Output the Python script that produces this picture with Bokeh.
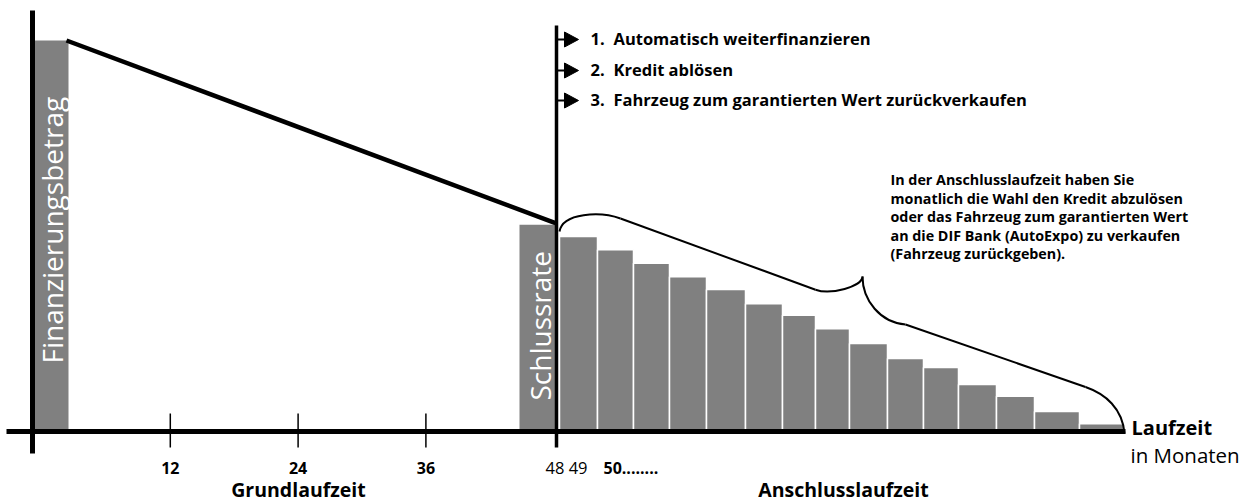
import math
from bokeh.plotting import figure
from bokeh.models import Range1d
from bokeh.core.properties import value
from bokeh.embed import file_html
from bokeh.resources import INLINE

# ---------------- data ----------------
fin_amount = 100.0            # Finanzierungsbetrag (relative)
schlussrate = 52.9            # Schlussrate (relative)
rate_values = [49.9, 46.5, 43.0, 39.6, 36.3, 32.7, 29.7, 26.3, 22.5, 18.7, 16.4, 12.0, 9.0, 5.1, 2.0]
rate_edges = [559, 597, 633, 669, 706, 745, 782, 815, 849, 887, 923, 958, 996, 1034, 1079, 1123]
tick_months = [12, 24, 36]
tick_labels = ["12", "24", "36"]
options_nums = ["1.", "2.", "3."]
options_text = ["Automatisch weiterfinanzieren", "Kredit ablösen",
                "Fahrzeug zum garantierten Wert zurückverkaufen"]
callout_lines = ["In der Anschlusslaufzeit haben Sie",
                 "monatlich die Wahl den Kredit abzulösen",
                 "oder das Fahrzeug zum garantierten Wert",
                 "an die DIF Bank (AutoExpo) zu verkaufen",
                 "(Fahrzeug zurückgeben)."]

# ---------------- layout helpers ----------------
BASE = 431.0      # screen y of the time axis
PPU = 3.91        # px per value unit
def Y(sy):
    return (BASE - sy) / PPU

X0, PPM = 42.0, 10.65
def XM(m):
    return X0 + m * PPM

GRAY = "#808080"
FONT = value("Open Sans")

p = figure(width=1244, height=502, x_range=Range1d(0, 1244), y_range=Range1d(Y(502), Y(0)),
           output_backend="svg", toolbar_location=None, min_border=0)
p.axis.visible = False
p.grid.visible = False
p.outline_line_color = None
p.background_fill_color = "white"
p.border_fill_color = "white"

# bars
p.quad(left=[32], right=[68], bottom=[0], top=[fin_amount], fill_color=GRAY, line_color=None)
p.quad(left=[519], right=[555], bottom=[0], top=[schlussrate], fill_color=GRAY, line_color=None)
p.quad(left=rate_edges[:-1], right=rate_edges[1:], bottom=[0] * len(rate_values), top=rate_values,
       fill_color=GRAY, line_color="white", line_width=1.5)

# declining line
p.line([66, 555], [fin_amount, schlussrate + 0.4], line_color="black", line_width=4.5)

# axes lines
p.line([32, 32], [Y(453), Y(10)], line_color="black", line_width=5)
p.line([6, 1125], [0, 0], line_color="black", line_width=5)
p.line([556, 556], [Y(447), Y(25)], line_color="black", line_width=3.5)
tx = [XM(m) for m in tick_months]
p.segment(x0=tx, y0=[Y(413)] * 3, x1=tx, y1=[Y(447)] * 3, line_color="black", line_width=1.5)

# option arrows
opt_y = [39, 70, 100]
p.segment(x0=[556] * 3, y0=[Y(v) for v in opt_y], x1=[566] * 3, y1=[Y(v) for v in opt_y],
          line_color="black", line_width=2)
p.patches(xs=[[564, 578, 564] for _ in opt_y],
          ys=[[Y(v - 7.5), Y(v), Y(v + 7.5)] for v in opt_y],
          fill_color="black", line_color="black")
p.text(x=[590] * 3, y=[Y(v - 1) for v in opt_y], text=options_nums, text_font=FONT, text_font_style="bold",
       text_font_size="16.5px", text_baseline="middle", text_align="left", text_color="black")
p.text(x=[613] * 3, y=[Y(v - 1) for v in opt_y], text=options_text, text_font=FONT, text_font_style="bold",
       text_font_size="16.5px", text_baseline="middle", text_align="left", text_color="black")

# callout text
cm = [179, 197.5, 216, 234.5, 253]
p.text(x=[890] * 5, y=[Y(v) for v in cm], text=callout_lines, text_font=FONT, text_font_style="bold",
       text_font_size="14.3px", text_baseline="middle", text_align="left", text_color="black")

# rotated labels inside bars
p.text(x=[51], y=[Y(363)], text=["Finanzierungsbetrag"], angle=math.pi / 2, text_font=FONT,
       text_font_size="28px", text_baseline="middle", text_align="left", text_color="white")
p.text(x=[539], y=[Y(400)], text=["Schlussrate"], angle=math.pi / 2, text_font=FONT,
       text_font_size="28px", text_baseline="middle", text_align="left", text_color="white")

# tick labels and axis titles
p.text(x=tx, y=[Y(467)] * 3, text=tick_labels, text_font=FONT, text_font_style="bold",
       text_font_size="16px", text_baseline="middle", text_align="center")
p.text(x=[545], y=[Y(467)], text=["48 49"], text_font=FONT, text_font_size="16.5px",
       text_baseline="middle", text_align="left")
p.text(x=[603], y=[Y(467)], text=["50........"], text_font=FONT, text_font_style="bold",
       text_font_size="16px", text_baseline="middle", text_align="left")
p.text(x=[298], y=[Y(489)], text=["Grundlaufzeit"], text_font=FONT, text_font_style="bold",
       text_font_size="19.5px", text_baseline="middle", text_align="center")
p.text(x=[843], y=[Y(489)], text=["Anschlusslaufzeit"], text_font=FONT, text_font_style="bold",
       text_font_size="19.5px", text_baseline="middle", text_align="center")
p.text(x=[1131], y=[Y(427)], text=["Laufzeit"], text_font=FONT, text_font_style="bold",
       text_font_size="20px", text_baseline="middle", text_align="left")
p.text(x=[1130], y=[Y(454)], text=["in Monaten"], text_font=FONT,
       text_font_size="20.5px", text_baseline="middle", text_align="left")

# curly brace over the Anschlusslaufzeit bars
def bz(a, b, c, d):
    p.bezier(x0=[a[0]], y0=[Y(a[1])], x1=[d[0]], y1=[Y(d[1])],
             cx0=[b[0]], cy0=[Y(b[1])], cx1=[c[0]], cy1=[Y(c[1])], line_color="black", line_width=2)

bz((559, 231), (562, 212), (600, 210.7), (620, 218))
p.line([620, 815], [Y(218), Y(289.2)], line_color="black", line_width=2)
bz((815, 289.2), (830, 294.7), (862, 286), (862, 276))
bz((862, 276), (862, 300), (880, 322), (905, 324))
p.line([905, 1085], [Y(324), Y(386.5)], line_color="black", line_width=2)
bz((1085, 386.5), (1105, 393.4), (1122, 408), (1124, 433))

open("out.html", "w").write(file_html(p, INLINE))
